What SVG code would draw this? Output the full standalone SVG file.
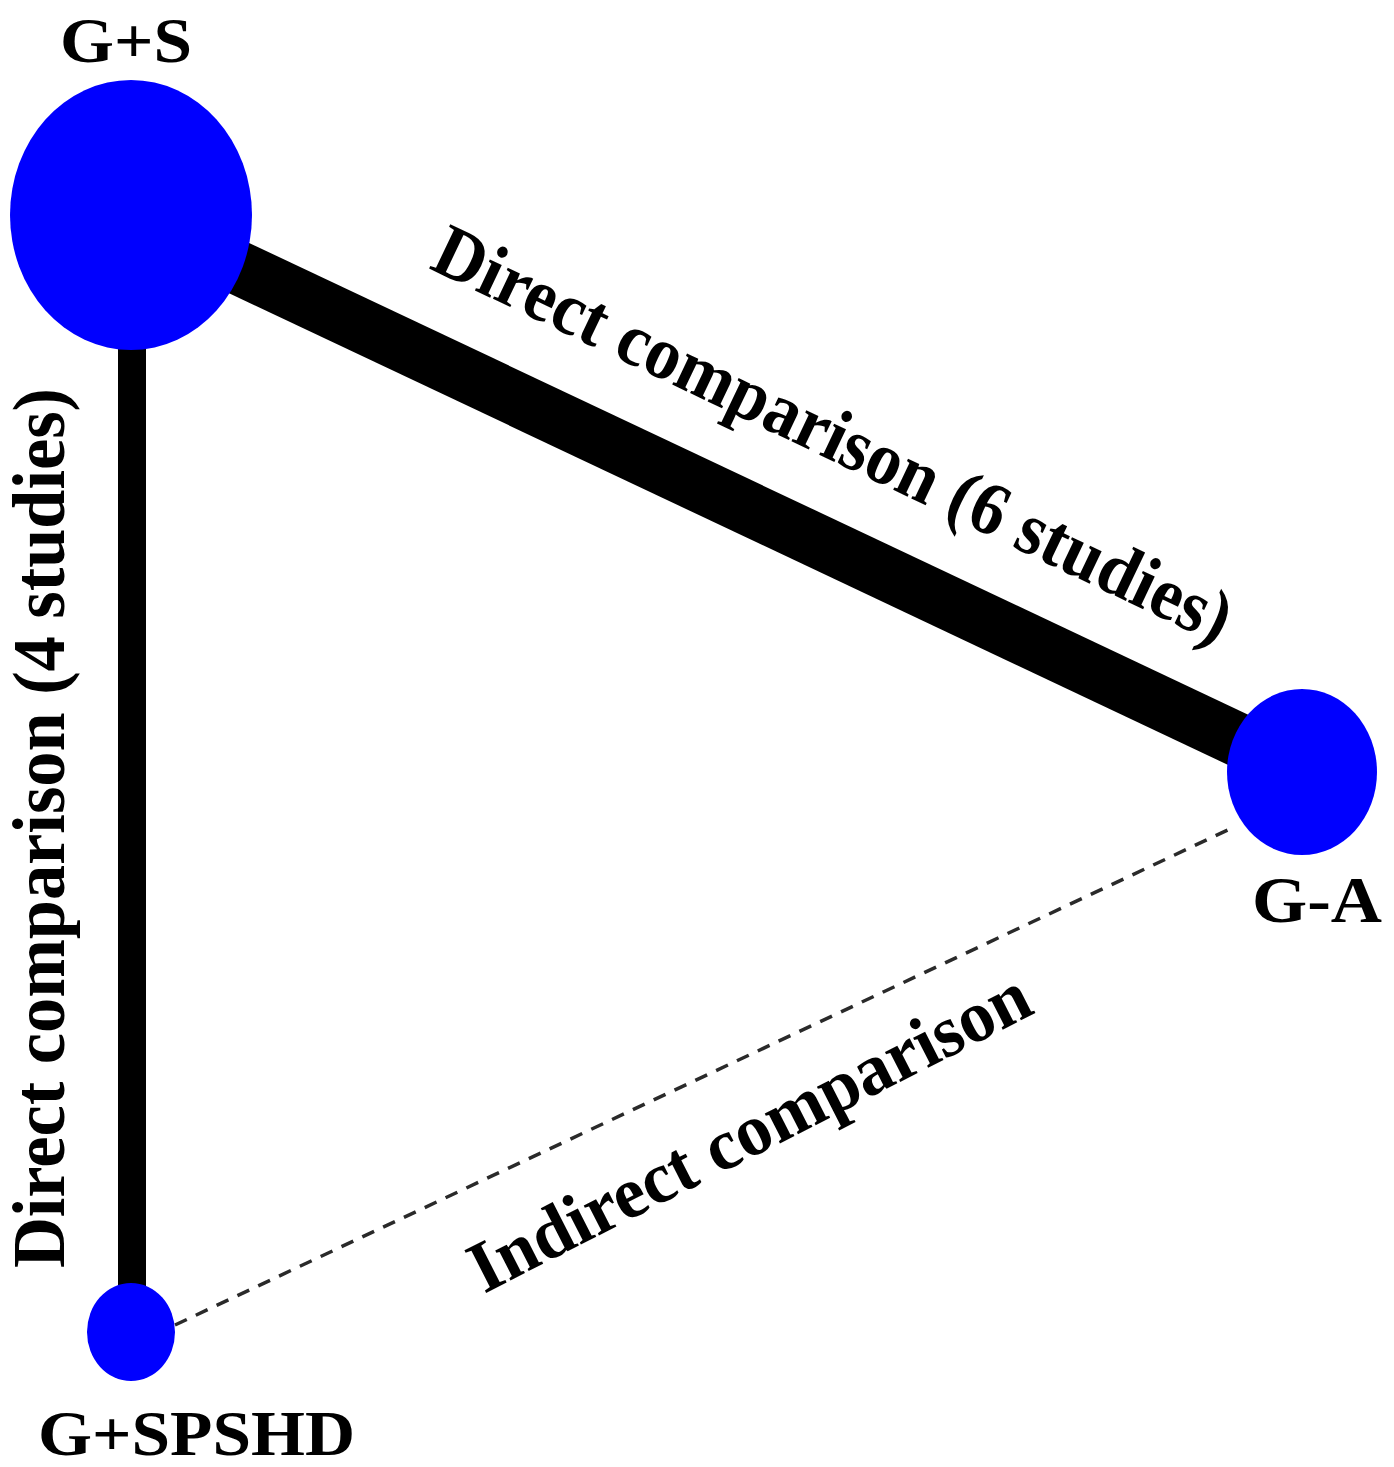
<svg xmlns="http://www.w3.org/2000/svg" width="1394" height="1467" viewBox="0 0 1394 1467">
  <style>
    .node { fill: #0000FF; }
    .lbl { font-family: "Liberation Serif", "Times New Roman", Tinos, serif; font-weight: bold; fill: #000; }
    .edge { stroke: #000; fill: none; }
    .dash { stroke: #2a2a2a; stroke-width: 3.5; stroke-dasharray: 13 10; fill: none; }
  </style>
  <rect width="1394" height="1467" fill="#FFFFFF"/>
  <g id="connectors">
    <line class="edge" x1="131" y1="217" x2="1302" y2="770" stroke-width="54"/>
    <line class="edge" x1="132" y1="215" x2="132" y2="1332" stroke-width="28"/>
    <line class="dash" x1="175" y1="1325" x2="1232" y2="828"/>
    <text class="lbl" font-size="75" transform="translate(428,268) rotate(25.5)" textLength="875" lengthAdjust="spacingAndGlyphs">Direct comparison (6 studies)</text>
    <text class="lbl" font-size="74" transform="translate(64,1268) rotate(-90)" textLength="880" lengthAdjust="spacingAndGlyphs">Direct comparison (4 studies)</text>
    <text class="lbl" font-size="73" transform="translate(484,1294) rotate(-27)" textLength="620" lengthAdjust="spacingAndGlyphs">Indirect comparison</text>
  </g>
  <g id="node-GS">
    <ellipse class="node" cx="131" cy="215" rx="121" ry="135"/>
    <text class="lbl" font-size="64" x="60" y="62" textLength="132" lengthAdjust="spacingAndGlyphs">G+S</text>
  </g>
  <g id="node-GA">
    <ellipse class="node" cx="1302" cy="772" rx="75" ry="83"/>
    <text class="lbl" font-size="66" x="1252" y="922" textLength="130" lengthAdjust="spacingAndGlyphs">G-A</text>
  </g>
  <g id="node-GSPSHD">
    <ellipse class="node" cx="131" cy="1332" rx="44" ry="49"/>
    <text class="lbl" font-size="64" x="38" y="1455" textLength="317" lengthAdjust="spacingAndGlyphs">G+SPSHD</text>
  </g>
</svg>
